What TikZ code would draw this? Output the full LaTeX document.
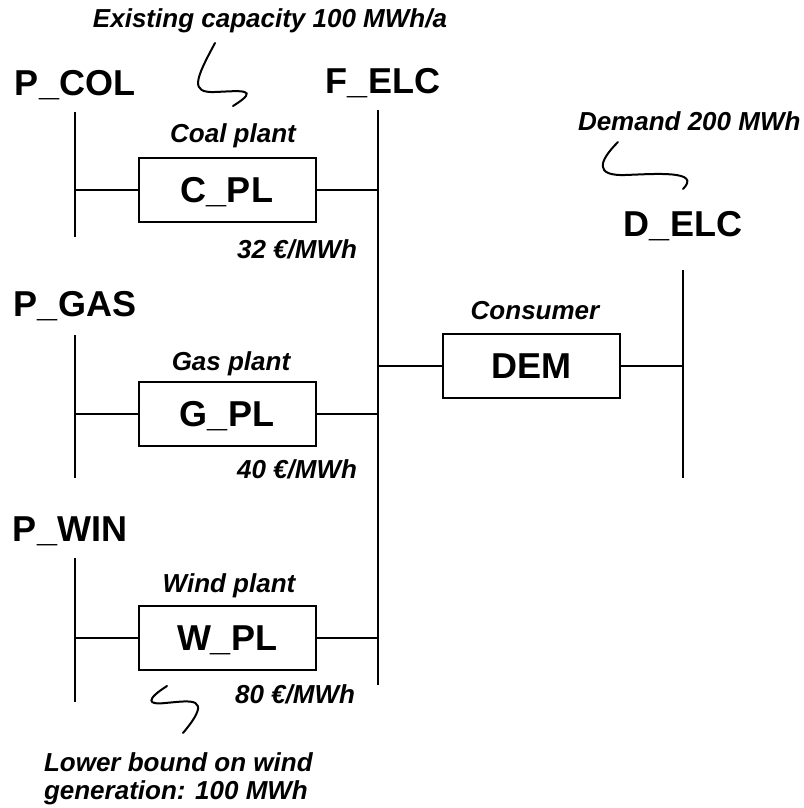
\documentclass[tikz,border=0pt]{standalone}
\usepackage{fontspec}
\setmainfont{Liberation Sans}
\usepackage{tikz}
\usetikzlibrary{positioning}

\begin{document}
\begin{tikzpicture}[
  x=1pt, y=-1pt,
  line width=2pt,
  busname/.style={font=\fontsize{36}{40}\selectfont\bfseries, inner sep=0pt, anchor=base},
  block/.style={rectangle, draw, line width=2pt, minimum width=177pt, minimum height=64pt, inner sep=0pt, text height=25.8pt, text depth=0pt, font=\fontsize{36}{40}\selectfont\bfseries},
  note/.style={font=\fontsize{26}{28}\selectfont\bfseries\itshape, inner sep=0pt, anchor=base},
  cost/.style={note, anchor=base east},
  pointer/.style={line width=2pt, line cap=round}
]
\useasboundingbox (0,0) rectangle (803,808);

% commodities
\node[busname] (pcol) at (75,95) {P\_COL};
\node[busname] (pgas) at (75,316) {P\_GAS};
\node[busname] (pwin) at (70,541) {P\_WIN};
\node[busname] (felc) at (383,93) {F\_ELC};
\node[busname] (delc) at (683,236) {D\_ELC};
\coordinate (pcol top) at (75,112);  \coordinate (pcol bot) at (75,237);
\coordinate (pgas top) at (75,335);  \coordinate (pgas bot) at (75,478);
\coordinate (pwin top) at (75,558);  \coordinate (pwin bot) at (75,702);
\coordinate (felc top) at (378,110); \coordinate (felc bot) at (378,685);
\coordinate (delc top) at (683,270); \coordinate (delc bot) at (683,478);
\draw (pcol top) -- (pcol bot);
\draw (pgas top) -- (pgas bot);
\draw (pwin top) -- (pwin bot);
\draw (felc top) -- (felc bot);
\draw (delc top) -- (delc bot);

% processes
\node[block] (cpl) at (227,190) {C\_PL};
\node[block] (gpl) at (227,414) {G\_PL};
\node[block] (wpl) at (227,638) {W\_PL};
\node[block] (dem) at (531,366) {DEM};
\draw (pcol top |- cpl.west) -- (cpl.west);
\draw (cpl.east) -- (felc top |- cpl.east);
\draw (pgas top |- gpl.west) -- (gpl.west);
\draw (gpl.east) -- (felc top |- gpl.east);
\draw (pwin top |- wpl.west) -- (wpl.west);
\draw (wpl.east) -- (felc top |- wpl.east);
\draw (felc top |- dem.west) -- (dem.west);
\draw (dem.east) -- (delc top |- dem.east);

% labels and costs
\node[note] (cpl name) at (233,142) {Coal plant};
\node[note] (gpl name) at (231,370) {Gas plant};
\node[note] (wpl name) at (229,592) {Wind plant};
\node[note] (dem name) at (535,319) {Consumer};
\node[cost] (cpl cost) at (358,258) {32 €/MWh};
\node[cost] (gpl cost) at (358,478) {40 €/MWh};
\node[cost] (wpl cost) at (356,703) {80 €/MWh};

% remarks
\node[note] (cap) at (270,28) {Existing capacity 100 MWh/a};
\node[note, anchor=base west] (dmd) at (577,130) {Demand 200 MWh};
\node[note, anchor=base west] (lb) at (43,771) {Lower bound on wind};
\node[note, anchor=base west] (lb2) at (43,799) {generation: 100 MWh};
\draw[pointer] (215,43) .. controls (195,80) and (190,93) .. (215,92)
  .. controls (240,91) and (262,88) .. (233,106);
\draw[pointer] (618,142) .. controls (598,162) and (595,176) .. (625,175)
  .. controls (655,174) and (702,170) .. (683,189);
\draw[pointer] (167,686) .. controls (145,700) and (148,705) .. (165,703)
  .. controls (190,701) and (215,695) .. (183,733);
\end{tikzpicture}
\end{document}
